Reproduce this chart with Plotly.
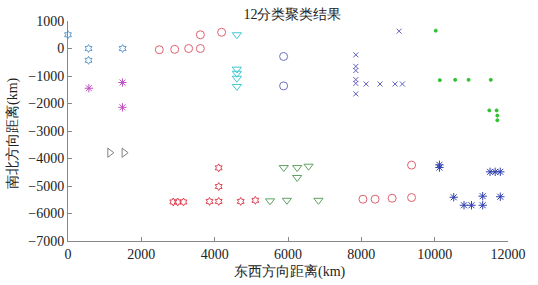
import plotly.graph_objects as go

# Cluster data (x: east-west distance km, y: north-south distance km)
c1_x = [0, 560, 560, 1490]
c1_y = [500, 0, -430, 0]

c2_x = [570, 1485, 1485]
c2_y = [-1445, -1237, -2139]

c3_x = [2490, 2910, 3290, 3610, 3610, 4190]
c3_y = [-45, -30, 0, 0, 500, 590]

c4_x = [4605, 4605, 4605, 4605, 4605]
c4_y = [500, -750, -900, -1080, -1380]

c5_x = [5880, 5880]
c5_y = [-290, -1360]

c6_x = [9030, 7850, 7850, 7850, 7850, 7850, 7850, 8130, 8510, 8920, 9120]
c6_y = [630, -230, -650, -800, -1130, -1270, -1650, -1290, -1290, -1290, -1290]

c7_x = [10030, 10140, 10560, 10925, 11530, 11490, 11690, 11710, 11710]
c7_y = [650, -1150, -1140, -1140, -1140, -2250, -2250, -2440, -2610]

c8_x = [1140, 1530]
c8_y = [-3790, -3790]

c9_x = [4110, 4110, 2870, 2990, 3150, 3860, 4110, 4710, 5110]
c9_y = [-4340, -5020, -5580, -5580, -5580, -5560, -5560, -5560, -5520]

c10_x = [5885, 6250, 6560, 6250, 5510, 5970, 6830]
c10_y = [-4330, -4330, -4280, -4690, -5540, -5520, -5520]

c11_x = [8045, 8375, 8840, 9370, 9370]
c11_y = [-5480, -5480, -5445, -4240, -5420]

c12_x = [10130, 10130, 10520, 10800, 11005, 11310, 11310, 11510, 11650, 11790, 11790, 11790]
c12_y = [-4230, -4330, -5410, -5700, -5700, -5700, -5370, -4485, -4485, -4485, -5390, -7030]

title_text = "12分类聚类结果"
x_title = "东西方向距离(km)"
y_title = "南北方向距离(km)"
x_ticks = [0, 2000, 4000, 6000, 8000, 10000, 12000]
y_ticks = [1000, 0, -1000, -2000, -3000, -4000, -5000, -6000, -7000]

FONT = "Liberation Serif"

clusters = [
    (c1_x, c1_y, "hexagram-open", "#5b9bd0", 6),
    (c2_x, c2_y, "asterisk-open", "#c050c0", 7),
    (c3_x, c3_y, "circle-open", "#e06070", 8),
    (c4_x, c4_y, "triangle-down-open", "#40c8d0", 8),
    (c5_x, c5_y, "circle-open", "#7070c0", 8),
    (c6_x, c6_y, "x-thin-open", "#6060c0", 5),
    (c7_x, c7_y, "circle", "#30c030", 3),
    (c8_x, c8_y, "triangle-right-open", "#808080", 8),
    (c9_x, c9_y, "hexagram-open", "#e04050", 6),
    (c10_x, c10_y, "triangle-down-open", "#60a060", 8),
    (c11_x, c11_y, "circle-open", "#e06070", 8),
    (c12_x, c12_y, "asterisk-open", "#3040b0", 7),
]

fig = go.Figure()
for xs, ys, sym, col, sz in clusters:
    fig.add_trace(go.Scatter(
        x=xs, y=ys, mode="markers", cliponaxis=False, showlegend=False,
        marker=dict(symbol=sym, size=sz, color=col, line=dict(color=col, width=1)),
    ))

axis_common = dict(
    showgrid=False, zeroline=False, showline=True, linecolor="#888888", linewidth=1,
    ticks="inside", ticklen=4, tickcolor="#888888", mirror=False,
    tickfont=dict(family=FONT, size=14, color="#222222"),
)

fig.update_layout(
    width=538, height=285,
    margin=dict(l=68, r=21, t=21, b=44),
    paper_bgcolor="white", plot_bgcolor="white",
    title=dict(text=title_text, x=0.5435, xref="container", xanchor="center",
               y=1 - 14 / 285, yref="container", yanchor="middle",
               font=dict(family=FONT, size=14, color="#222222")),
    xaxis=dict(range=[0, 12000], tickvals=x_ticks, ticktext=[str(v) for v in x_ticks], **axis_common),
    yaxis=dict(range=[-7000, 1000], tickvals=y_ticks,
               ticktext=[str(v).replace("-", "\u2212") for v in y_ticks], **axis_common),
    annotations=[
        dict(text=x_title, xref="paper", yref="paper", x=0.505, y=-0.14,
             xanchor="center", yanchor="middle", showarrow=False,
             font=dict(family=FONT, size=14, color="#222222")),
        dict(text=y_title, xref="paper", yref="paper", x=-0.125, y=0.491,
             xanchor="center", yanchor="middle", showarrow=False, textangle=-90,
             font=dict(family=FONT, size=14, color="#222222")),
    ],
)

fig.write_html("out.html", config={"displayModeBar": False},
               post_script="document.body.style.margin='0';document.body.style.padding='0';")
